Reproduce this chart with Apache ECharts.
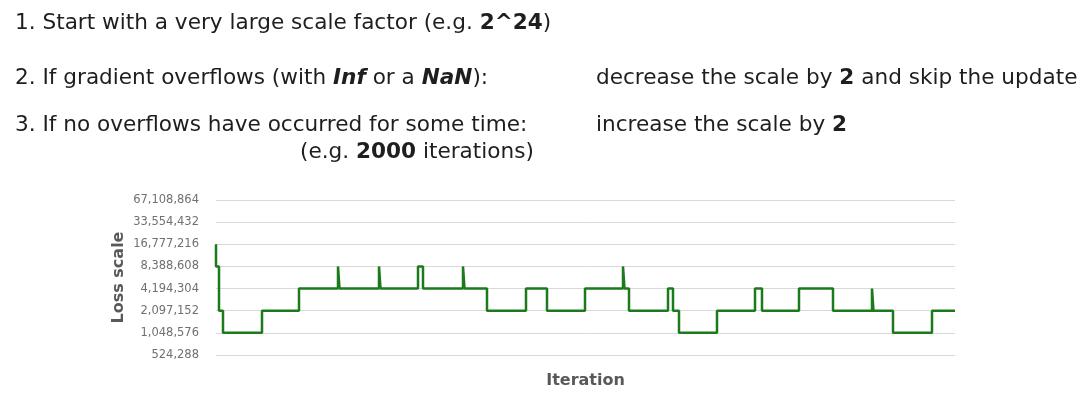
<!DOCTYPE html>
<html>
<head>
<meta charset="utf-8">
<script src="https://cdn.jsdelivr.net/npm/echarts@6/dist/echarts.min.js"></script>
<style>
  html, body { margin: 0; padding: 0; background: #fff; }
  #chart { width: 1080px; height: 395px; }
</style>
</head>
<body>
<div id="chart"></div>
<script>
// iterations where the loss scale changes, and the scale from that point on
const iterations = [0, 0, 150, 350, 2300, 4150, 6100, 6175, 8150, 8225, 10100, 10350,
  12350, 12425, 13550, 15500, 16550, 18450, 20350, 20425, 20650, 22600, 22850, 23150,
  25050, 26950, 27300, 29150, 30850, 32800, 32875, 33850, 35800, 36950];
const lossScale = [16777216, 8388608, 2097152, 1048576, 2097152, 4194304, 8388608, 4194304,
  8388608, 4194304, 8388608, 4194304, 8388608, 4194304, 2097152, 4194304, 2097152, 4194304,
  8388608, 4194304, 2097152, 4194304, 2097152, 1048576, 2097152, 4194304, 2097152, 4194304,
  2097152, 4194304, 2097152, 1048576, 2097152, 2097152];
const yTicks = [524288, 1048576, 2097152, 4194304, 8388608, 16777216, 33554432, 67108864];

const textFont = '"DejaVu Sans", sans-serif';
const txt = '#1e1e1e';
const fs = 21.6;
const rich = {
  n: { fontFamily: textFont, fontSize: fs, color: txt },
  b: { fontFamily: textFont, fontSize: fs, color: txt, fontWeight: 'bold' },
  bi: { fontFamily: textFont, fontSize: fs, color: txt, fontWeight: 'bold', fontStyle: 'italic' }
};
function line(x, y, text) {
  return {
    type: 'text', x: x, y: y,
    style: { text: text, rich: rich, fill: txt, font: fs + 'px ' + textFont, verticalAlign: 'middle' }
  };
}

const chart = echarts.init(document.getElementById('chart'));
chart.setOption({
  animation: false,
  backgroundColor: '#fff',
  graphic: [
    line(15, 23, '{n|1. Start with a very large scale factor (e.g. }{b|2^24}{n|)}'),
    line(15, 78, '{n|2. If gradient overflows (with }{bi|Inf}{n| or a }{bi|NaN}{n|):}'),
    line(15, 125, '{n|3. If no overflows have occurred for some time:}'),
    line(300, 152, '{n|(e.g. }{b|2000}{n| iterations)}'),
    line(596, 78, '{n|decrease the scale by }{b|2}{n| and skip the update}'),
    line(596, 125, '{n|increase the scale by }{b|2}')
  ],
  grid: { left: 216, right: 125, top: 200, bottom: 40 },
  xAxis: {
    type: 'value', min: 0, max: 36950,
    name: 'Iteration', nameLocation: 'middle', nameGap: 18, nameMoveOverlap: false,
    nameTextStyle: { fontFamily: textFont, fontSize: 16, fontWeight: 'bold', color: '#595959' },
    axisLine: { show: false }, axisTick: { show: false },
    axisLabel: { show: false }, splitLine: { show: false }
  },
  yAxis: {
    type: 'log', logBase: 2, min: yTicks[0], max: yTicks[yTicks.length - 1], interval: 1,
    name: 'Loss scale', nameLocation: 'middle', nameGap: 89, nameRotate: 90, nameMoveOverlap: false,
    nameTextStyle: { fontFamily: textFont, fontSize: 16, fontWeight: 'bold', color: '#595959' },
    axisLine: { show: false }, axisTick: { show: false },
    axisLabel: {
      fontFamily: textFont, fontSize: 11.5, color: '#707070', margin: 17,
      formatter: v => Math.round(v).toLocaleString('en-US')
    },
    splitLine: { lineStyle: { color: '#d9d9d9', width: 1 } }
  },
  series: [{
    type: 'line', step: 'end', showSymbol: false,
    data: iterations.map((it, i) => [it, lossScale[i]]),
    lineStyle: { color: '#1b7a1b', width: 2.5, join: 'bevel' }
  }]
});
</script>
</body>
</html>
